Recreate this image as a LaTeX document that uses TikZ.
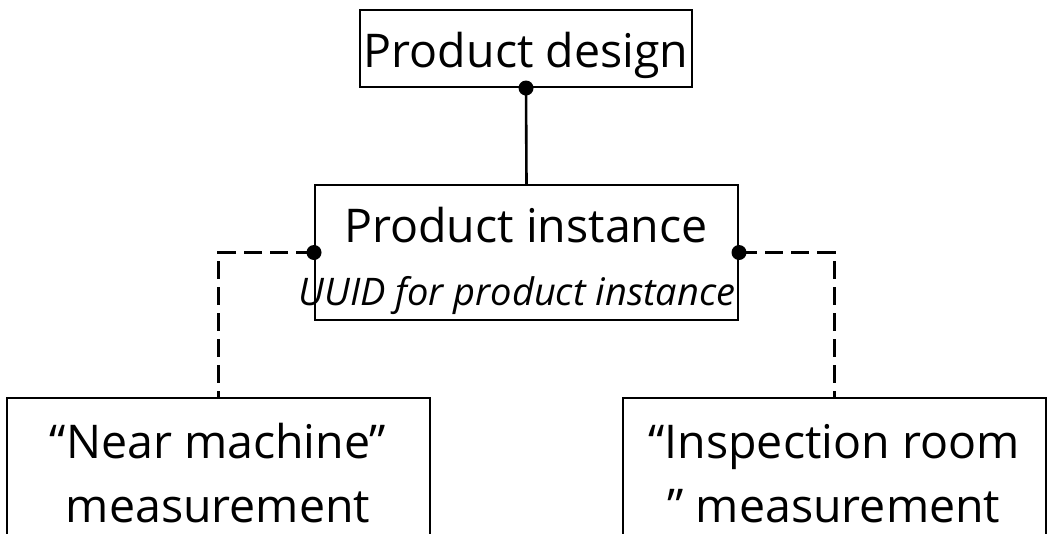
\documentclass[tikz,border=0pt]{standalone}
\usepackage{fontspec}
\setmainfont{Open Sans}
\usetikzlibrary{positioning}
\tikzstyle{box}=[draw, line width=2pt, inner sep=0pt]
\tikzstyle{big}=[font=\fontsize{46.5}{64}\selectfont, align=center]
\tikzstyle{small}=[font=\fontsize{38}{40}\selectfont\itshape]
\tikzstyle{link}=[line width=2.6pt]
\tikzstyle{dlink}=[link, dash pattern=on 18pt off 8pt]
\tikzstyle{dot}=[circle, fill=black, inner sep=0pt, minimum size=15pt]

\begin{document}
\begin{tikzpicture}[x=1pt,y=-1pt]
    \clip (0,0) rectangle (1051,533);
    % boxes
    \node (design) [box, minimum width=332pt, minimum height=77pt] at (526,48.5) {};
    \node (inst) [box, minimum width=423pt, minimum height=135pt] at (526.5,252.5) {};
    \node (near) [box, minimum width=423pt, minimum height=162pt] at (218.5,479) {};
    \node (insp) [box, minimum width=423pt, minimum height=162pt] at (834.5,479) {};
    % texts (base = last line)
    \node (designtxt) [big, anchor=base] at (526,67) {Product design};
    \node (insttxt) [big, anchor=base] at (526,242) {Product instance};
    \node (uuid) [small, anchor=base] at (517,305) {UUID for product instance};
    \node (neartxt) [big, anchor=base] at (218,522) {“Near machine”\\measurement};
    \node (insptxt) [big, anchor=base] at (834,522) {“Inspection room\\” measurement};
    % connectors
    \draw [link] (design.south) -- (inst.north);
    \draw [dlink] (inst.west) -| (near.north);
    \draw [dlink] (inst.east) -| (insp.north);
    \node (d0) [dot] at (design.south) {};
    \node (d1) [dot] at (inst.west) {};
    \node (d2) [dot] at (inst.east) {};
\end{tikzpicture}
\end{document}
